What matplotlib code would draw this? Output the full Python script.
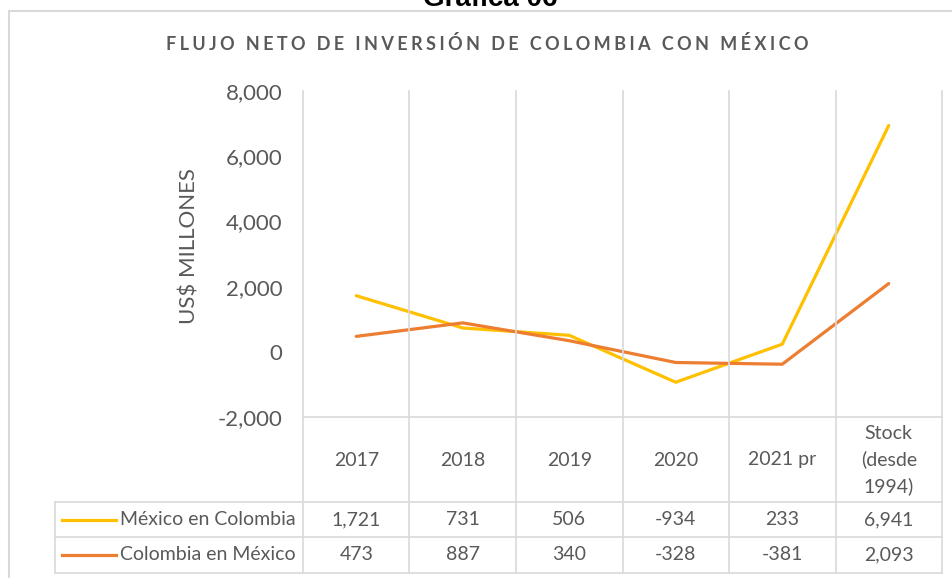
import matplotlib
matplotlib.use('Agg')
import matplotlib.pyplot as plt
import matplotlib.transforms as mtransforms
from matplotlib.lines import Line2D
from matplotlib.patches import Rectangle

categories = ['2017', '2018', '2019', '2020', '2021 pr', 'Stock\n(desde\n1994)']
mexico_en_colombia = [1721, 731, 506, -934, 233, 6941]
colombia_en_mexico = [473, 887, 340, -328, -381, 2093]
series_names = ['México en Colombia', 'Colombia en México']
series_colors = ['#FFC000', '#ED7D31']
yticks = [-2000, 0, 2000, 4000, 6000, 8000]

plt.rcParams['font.family'] = ['Lato', 'DejaVu Sans']
TXT = '#595959'
GRID = '#D9D9D9'

W, H = 953, 578
fig = plt.figure(figsize=(W / 100, H / 100), dpi=100)


def fx(px):
    return px / W


def fy(py):
    return 1 - py / H


# chart frame
fig.add_artist(Rectangle((fx(9), fy(600)), 1.0, fy(11) - fy(600),
                         transform=fig.transFigure, fill=False,
                         edgecolor=GRID, lw=1.5))

fig.text(fx(490), fy(6), 'Gráfica 06', ha='center', va='baseline',
         fontsize=20, fontweight='bold', family='Liberation Sans', color='black')

title = 'FLUJO NETO DE INVERSIÓN DE COLOMBIA CON MÉXICO'
fig.text(fx(487), fy(44), '\u2009\u200a'.join(title), ha='center', va='center',
         fontsize=13, fontweight='bold', color=TXT,
         family=['Lato', 'DejaVu Sans'])

ax = fig.add_axes([fx(303), fy(417), fx(942) - fx(303), fy(91) - fy(417)])
xs = list(range(len(categories)))
series = [mexico_en_colombia, colombia_en_mexico]
for vals, c in zip(series, series_colors):
    ax.plot(xs, vals, color=c, lw=2.3, solid_joinstyle='round',
            solid_capstyle='round', zorder=3)

ax.set_xlim(-0.5, len(categories) - 0.5)
ax.set_ylim(-2000, 8000)
ax.set_yticks(yticks)
ax.set_yticklabels([f'{v:,}' for v in yticks])
ax.tick_params(axis='y', length=0, pad=15, labelsize=16, labelcolor=TXT)
ax.set_xticks([])
for s in ax.spines.values():
    s.set_visible(False)
ax.patch.set_alpha(0)

fig.text(fx(190), fy(246), 'US$ MILLONES', rotation=90, ha='center',
         va='center', fontsize=16, color=TXT)

# data table below the plot
trans = mtransforms.blended_transform_factory(ax.transData, fig.transFigure)
x_right = ax.get_position().x1
x_left_tab = fx(55)
for k in range(len(categories) + 1):
    xb = k - 0.5
    fig.add_artist(Line2D([xb, xb], [fy(91), fy(573)], transform=trans,
                          color=GRID, lw=1.2))
fig.add_artist(Line2D([-0.5, len(categories) - 0.5], [fy(417), fy(417)],
                      transform=trans, color=GRID, lw=1.2))
for py in [502, 537, 573]:
    fig.add_artist(Line2D([x_left_tab, x_right], [fy(py), fy(py)],
                          transform=fig.transFigure, color=GRID, lw=1.2))
fig.add_artist(Line2D([x_left_tab, x_left_tab], [fy(502), fy(573)],
                      transform=fig.transFigure, color=GRID, lw=1.2))

for i, cat in enumerate(categories):
    fig.text(i, fy(460), cat, transform=trans, ha='center', va='center',
             fontsize=14, color=TXT, linespacing=1.6)

row_y = [519.5, 555]
for vals, name, c, py in zip(series, series_names, series_colors, row_y):
    fig.add_artist(Line2D([fx(62), fx(116)], [fy(py), fy(py)],
                          transform=fig.transFigure, color=c, lw=2.3))
    fig.text(fx(120), fy(py), name, ha='left', va='center',
             fontsize=14, color=TXT)
    for i, v in enumerate(vals):
        fig.text(i, fy(py), f'{v:,}', transform=trans, ha='center',
                 va='center', fontsize=14, color=TXT)

fig.savefig('out.png', dpi=100)
